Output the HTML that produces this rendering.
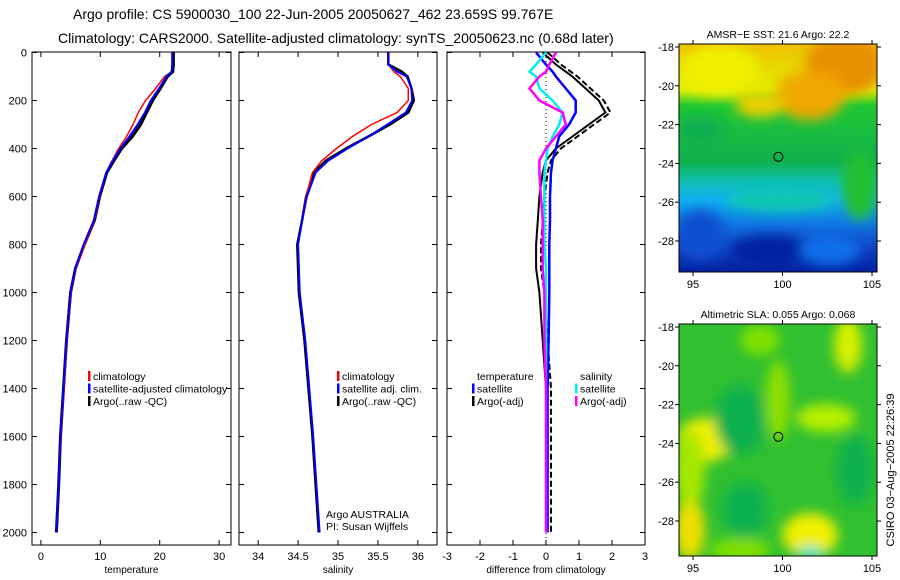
<!DOCTYPE html>
<html><head><meta charset="utf-8"><style>
html,body{margin:0;padding:0;background:#fff}
svg{display:block;font-family:"Liberation Sans",sans-serif}
</style></head><body>
<svg id="fig" width="900" height="580" viewBox="0 0 900 580">
<defs>
<linearGradient id="sstg" x1="0" y1="0" x2="0" y2="1">
<stop offset="0" stop-color="#f0c000"/><stop offset="0.2" stop-color="#e0f000"/><stop offset="0.27" stop-color="#20c830"/><stop offset="0.52" stop-color="#10b050"/><stop offset="0.6" stop-color="#10c0b0"/><stop offset="0.68" stop-color="#10b0f0"/><stop offset="0.8" stop-color="#1070e0"/><stop offset="0.9" stop-color="#1040c0"/><stop offset="1" stop-color="#0020a0"/>
</linearGradient>
<filter id="blur"><feGaussianBlur stdDeviation="6"/></filter>
<clipPath id="c1"><rect x="679" y="44" width="198" height="228"/></clipPath>
<clipPath id="c2"><rect x="679" y="324" width="198" height="232"/></clipPath>
</defs>
<text x="73" y="19" font-size="14">Argo profile: CS 5900030_100 22-Jun-2005 20050627_462 23.659S 99.767E</text>
<text x="58" y="43" font-size="14">Climatology: CARS2000. Satellite-adjusted climatology: synTS_20050623.nc (0.68d later)</text>
<g id="plots"></g>
<g id="maps"></g>
<text transform="translate(894,470) rotate(-90)" font-size="11" text-anchor="middle">CSIRO 03−Aug−2005 22:26:39</text>
</svg>
<script>
// ---- data ----
const depths = [0,50,80,100,150,200,250,300,350,400,450,500,600,700,800,900,1000,1200,1400,1600,1800,2000];
const tempArgo = [22.3,22.3,22.2,21.3,20.1,18.8,17.8,16.8,15.4,13.6,12.3,11.1,9.9,9.0,7.3,5.8,5.0,4.3,3.8,3.3,3.0,2.6];
const tempSat  = [22.1,22.1,22.0,21.1,19.9,18.5,17.5,16.3,14.9,13.4,12.1,11.0,9.8,8.9,7.2,5.8,5.0,4.3,3.8,3.3,3.0,2.6];
const tempClim = [22.1,22.1,22.0,20.8,19.3,17.6,16.4,15.5,14.4,13.1,12.0,11.0,9.9,9.0,7.4,5.9,5.1,4.4,3.9,3.4,3.0,2.6];
const salArgo = [35.63,35.63,35.80,35.87,35.92,35.95,35.88,35.65,35.38,35.10,34.85,34.70,34.60,34.55,34.49,34.50,34.51,34.58,34.63,34.68,34.72,34.76];
const salSat  = [35.63,35.63,35.74,35.86,35.92,35.93,35.85,35.62,35.38,35.12,34.88,34.72,34.61,34.55,34.50,34.51,34.52,34.59,34.64,34.69,34.73,34.77];
const salClim = [35.63,35.63,35.70,35.78,35.88,35.88,35.74,35.42,35.18,34.98,34.80,34.68,34.60,34.55,34.50,34.51,34.52,34.59,34.64,34.69,34.73,34.77];
const dTempArgo = [-0.1,0.3,0.6,0.8,1.2,1.6,1.8,1.3,0.8,0.3,0.0,-0.1,-0.2,-0.25,-0.3,-0.3,-0.2,-0.1,0.0,0.0,0.0,0.0];
const dTempSat = [-0.3,0.0,0.2,0.3,0.6,0.9,0.9,0.7,0.4,0.3,0.2,0.15,0.12,0.12,0.1,0.1,0.1,0.08,0.05,0.05,0.05,0.05];
const dSalSat = [0.0,-0.3,-0.5,-0.3,-0.2,0.2,0.5,0.4,0.2,0.05,0.0,-0.05,-0.05,-0.05,-0.05,0.0,0.0,0.0,0.0,0.0,0.0,0.0];
const dSalArgo = [0.3,0.1,0.0,-0.2,-0.5,-0.2,0.5,0.6,0.3,0.0,-0.2,-0.2,-0.15,-0.1,-0.1,-0.1,-0.05,-0.05,0.0,0.0,0.0,0.0];
const depthTicks = [0,200,400,600,800,1000,1200,1400,1600,1800,2000];
const tempTicks = [0,10,20,30];
const salTicks = [34,34.5,35,35.5,36];
const diffTicks = [-3,-2,-1,0,1,2,3];
const mapXTicks = [95,100,105];
const mapYTicks = [-18,-20,-22,-24,-26,-28];

const NS='http://www.w3.org/2000/svg';
function mk(tag,attrs,parent){const e=document.createElementNS(NS,tag);for(const k in attrs)e.setAttribute(k,attrs[k]);parent.appendChild(e);return e;}
const plots=document.getElementById('plots');
const yD = d => 52.5 + d*0.24;
const panels=[
 {x0:32,x1:231,min:-1.5,max:32,ticks:tempTicks,label:'temperature',name:'temperature-panel',fmt:v=>v},
 {x0:239,x1:437,min:33.76,max:36.24,ticks:salTicks,label:'salinity',name:'salinity-panel',fmt:v=>v},
 {x0:447,x1:645,min:-3,max:3,ticks:diffTicks,label:'difference from climatology',name:'difference-panel',fmt:v=>v}
];
panels.forEach((p,i)=>{
 p.sx=v=>p.x0+(v-p.min)/(p.max-p.min)*(p.x1-p.x0);
 const g=mk('g',{},plots);
 
 
 mk('rect',{x:p.x0,y:52,width:p.x1-p.x0,height:493,fill:'none',stroke:'#000','stroke-width':1},g);
 depthTicks.forEach(d=>{
  mk('line',{x1:p.x0,x2:p.x0+5,y1:yD(d),y2:yD(d),stroke:'#000'},g);
  mk('line',{x1:p.x1,x2:p.x1-5,y1:yD(d),y2:yD(d),stroke:'#000'},g);
  if(i===0){const t=mk('text',{x:p.x0-5,y:yD(d)+4,'font-size':11,'text-anchor':'end'},g);t.textContent=d;
   }
 });
 p.ticks.forEach(v=>{
  const x=p.sx(v);
  mk('line',{x1:x,x2:x,y1:545,y2:540,stroke:'#000'},g);
  mk('line',{x1:x,x2:x,y1:52,y2:57,stroke:'#000'},g);
  const t=mk('text',{x:x,y:560,'font-size':11,'text-anchor':'middle'},g);t.textContent=p.fmt(v);
  
  
 });
 const t=mk('text',{x:(p.x0+p.x1)/2,y:573,'font-size':10,'text-anchor':'middle'},g);t.textContent=p.label;
 
 
});
function line(p,vals,color,w,name,dash,off){
 const pts=vals.map((v,i)=>p.sx(v+(off||0)).toFixed(1)+','+yD(depths[i]).toFixed(1)).join(' ');
 const e=mk('polyline',{points:pts,fill:'none',stroke:color,'stroke-width':w},plots);
 if(dash)e.setAttribute('stroke-dasharray',dash);
 
 
}
const [P1,P2,P3]=panels;
line(P1,tempArgo,'#000',3,'temp-argo-line');
line(P1,tempClim,'#f00',1.5,'temp-climatology-line');
line(P1,tempSat,'#00f',2,'temp-satellite-line');
line(P2,salArgo,'#000',2.5,'sal-argo-line');
line(P2,salClim,'#f00',1.5,'sal-climatology-line');
line(P2,salSat,'#00f',2,'sal-satellite-line');
mk('line',{x1:P3.sx(0),x2:P3.sx(0),y1:53,y2:545,stroke:'#000','stroke-dasharray':'1,3'},plots);
line(P3,dTempArgo,'#000',2,'diff-temp-argo-line');
line(P3,dTempArgo,'#000',2,'diff-temp-argo-adj-line','6,3',0.15);
line(P3,dTempSat,'#00f',2.5,'diff-temp-satellite-line');
line(P3,dSalSat,'#0ee',2.5,'diff-sal-satellite-line');
line(P3,dSalArgo,'#f0f',2.5,'diff-sal-argo-line');

function legend(x,y,items){
 items.forEach((it,i)=>{
  const yy=y+i*12.5;
  if(it[1]){const b=mk('rect',{x:x,y:yy-9,width:2.5,height:10,fill:it[1]},plots);
   }
  const t=mk('text',{x:x+5,y:yy,'font-size':10.5},plots);t.textContent=it[0];
  
  
 });
}
legend(88,380,[['climatology','#f00'],['satellite-adjusted climatology','#00f'],['Argo(..raw -QC)','#000']]);
legend(337,380,[['climatology','#f00'],['satellite adj. clim.','#00f'],['Argo(..raw -QC)','#000']]);
legend(472,380,[['temperature',null],['satellite','#00f'],['Argo(-adj)','#000']]);
legend(575,380,[['salinity',null],['satellite','#0ee'],['Argo(-adj)','#f0f']]);
const a1=mk('text',{x:326,y:518,'font-size':10.5},plots);a1.textContent='Argo AUSTRALIA';

const a2=mk('text',{x:326,y:530,'font-size':10.5},plots);a2.textContent='PI: Susan Wijffels';


// ---- maps ----
const maps=document.getElementById('maps');
function mapFrame(top,h,title,name,clip,blobs,bg){
 const g=mk('g',{},maps);
 
 
 const sx=v=>693+(v-95)*17.9, sy=v=>top+3+(-18-v)*19.4;
 const cg=mk('g',{'clip-path':'url(#'+clip+')'},g);
 mk('rect',{x:679,y:top,width:198,height:h,fill:bg},cg);
 const bg2=mk('g',{filter:'url(#blur)'},cg);
 blobs.forEach(b=>mk('ellipse',{cx:b[0],cy:b[1],rx:b[2],ry:b[3],fill:b[4]},bg2));
 mk('rect',{x:679,y:top,width:198,height:h,fill:'none',stroke:'#000'},g);
 mapXTicks.forEach(v=>{mk('line',{x1:sx(v),x2:sx(v),y1:top+h,y2:top+h+4,stroke:'#000'},g);mk('line',{x1:sx(v),x2:sx(v),y1:top,y2:top-4,stroke:'#000'},g);
  const t=mk('text',{x:sx(v),y:top+h+16,'font-size':11,'text-anchor':'middle'},g);t.textContent=v;
  });
 mapYTicks.forEach(v=>{mk('line',{x1:675,x2:679,y1:sy(v),y2:sy(v),stroke:'#000'},g);mk('line',{x1:877,x2:881,y1:sy(v),y2:sy(v),stroke:'#000'},g);
  const t=mk('text',{x:674,y:sy(v)+4,'font-size':11,'text-anchor':'end'},g);t.textContent=v;
  });
 const tt=mk('text',{x:778,y:top-6,'font-size':10.5,'text-anchor':'middle'},g);tt.textContent=title;
 
 const c=mk('circle',{cx:sx(99.767),cy:sy(-23.659),r:4.5,fill:'none',stroke:'#000'},g);
 
}
mapFrame(44,228,'AMSR−E SST: 21.6 Argo: 22.2','sst-map','c1',[
 [845,65,40,30,'#e89000'],[810,95,35,25,'#f0a800'],[720,70,40,25,'#f0f000'],[760,105,25,12,'#f0d000'],
 [700,130,25,15,'#10b050'],[780,200,55,12,'#10c8b0'],[770,250,40,15,'#0020a0'],[700,235,25,25,'#1050d0'],[830,250,30,15,'#1070e8'],[860,185,18,35,'#20c030']
],'url(#sstg)');
mapFrame(324,232,'Altimetric SLA: 0.055 Argo: 0.068','sla-map','c2',[
 [705,440,28,22,'#f0f000'],[690,470,15,40,'#a8e800'],[690,530,15,30,'#f0e000'],[826,418,30,14,'#b8f000'],
 [848,345,14,28,'#d8f000'],[778,400,12,40,'#90e000'],[810,535,28,22,'#f0f000'],[810,553,12,6,'#10e0e0'],
 [740,420,25,35,'#10b050'],[745,510,22,28,'#10b050'],[855,470,18,35,'#10b050'],[760,340,20,15,'#80e000'],[740,550,30,12,'#80e000']
],'#30c030');
</script>
</body></html>
